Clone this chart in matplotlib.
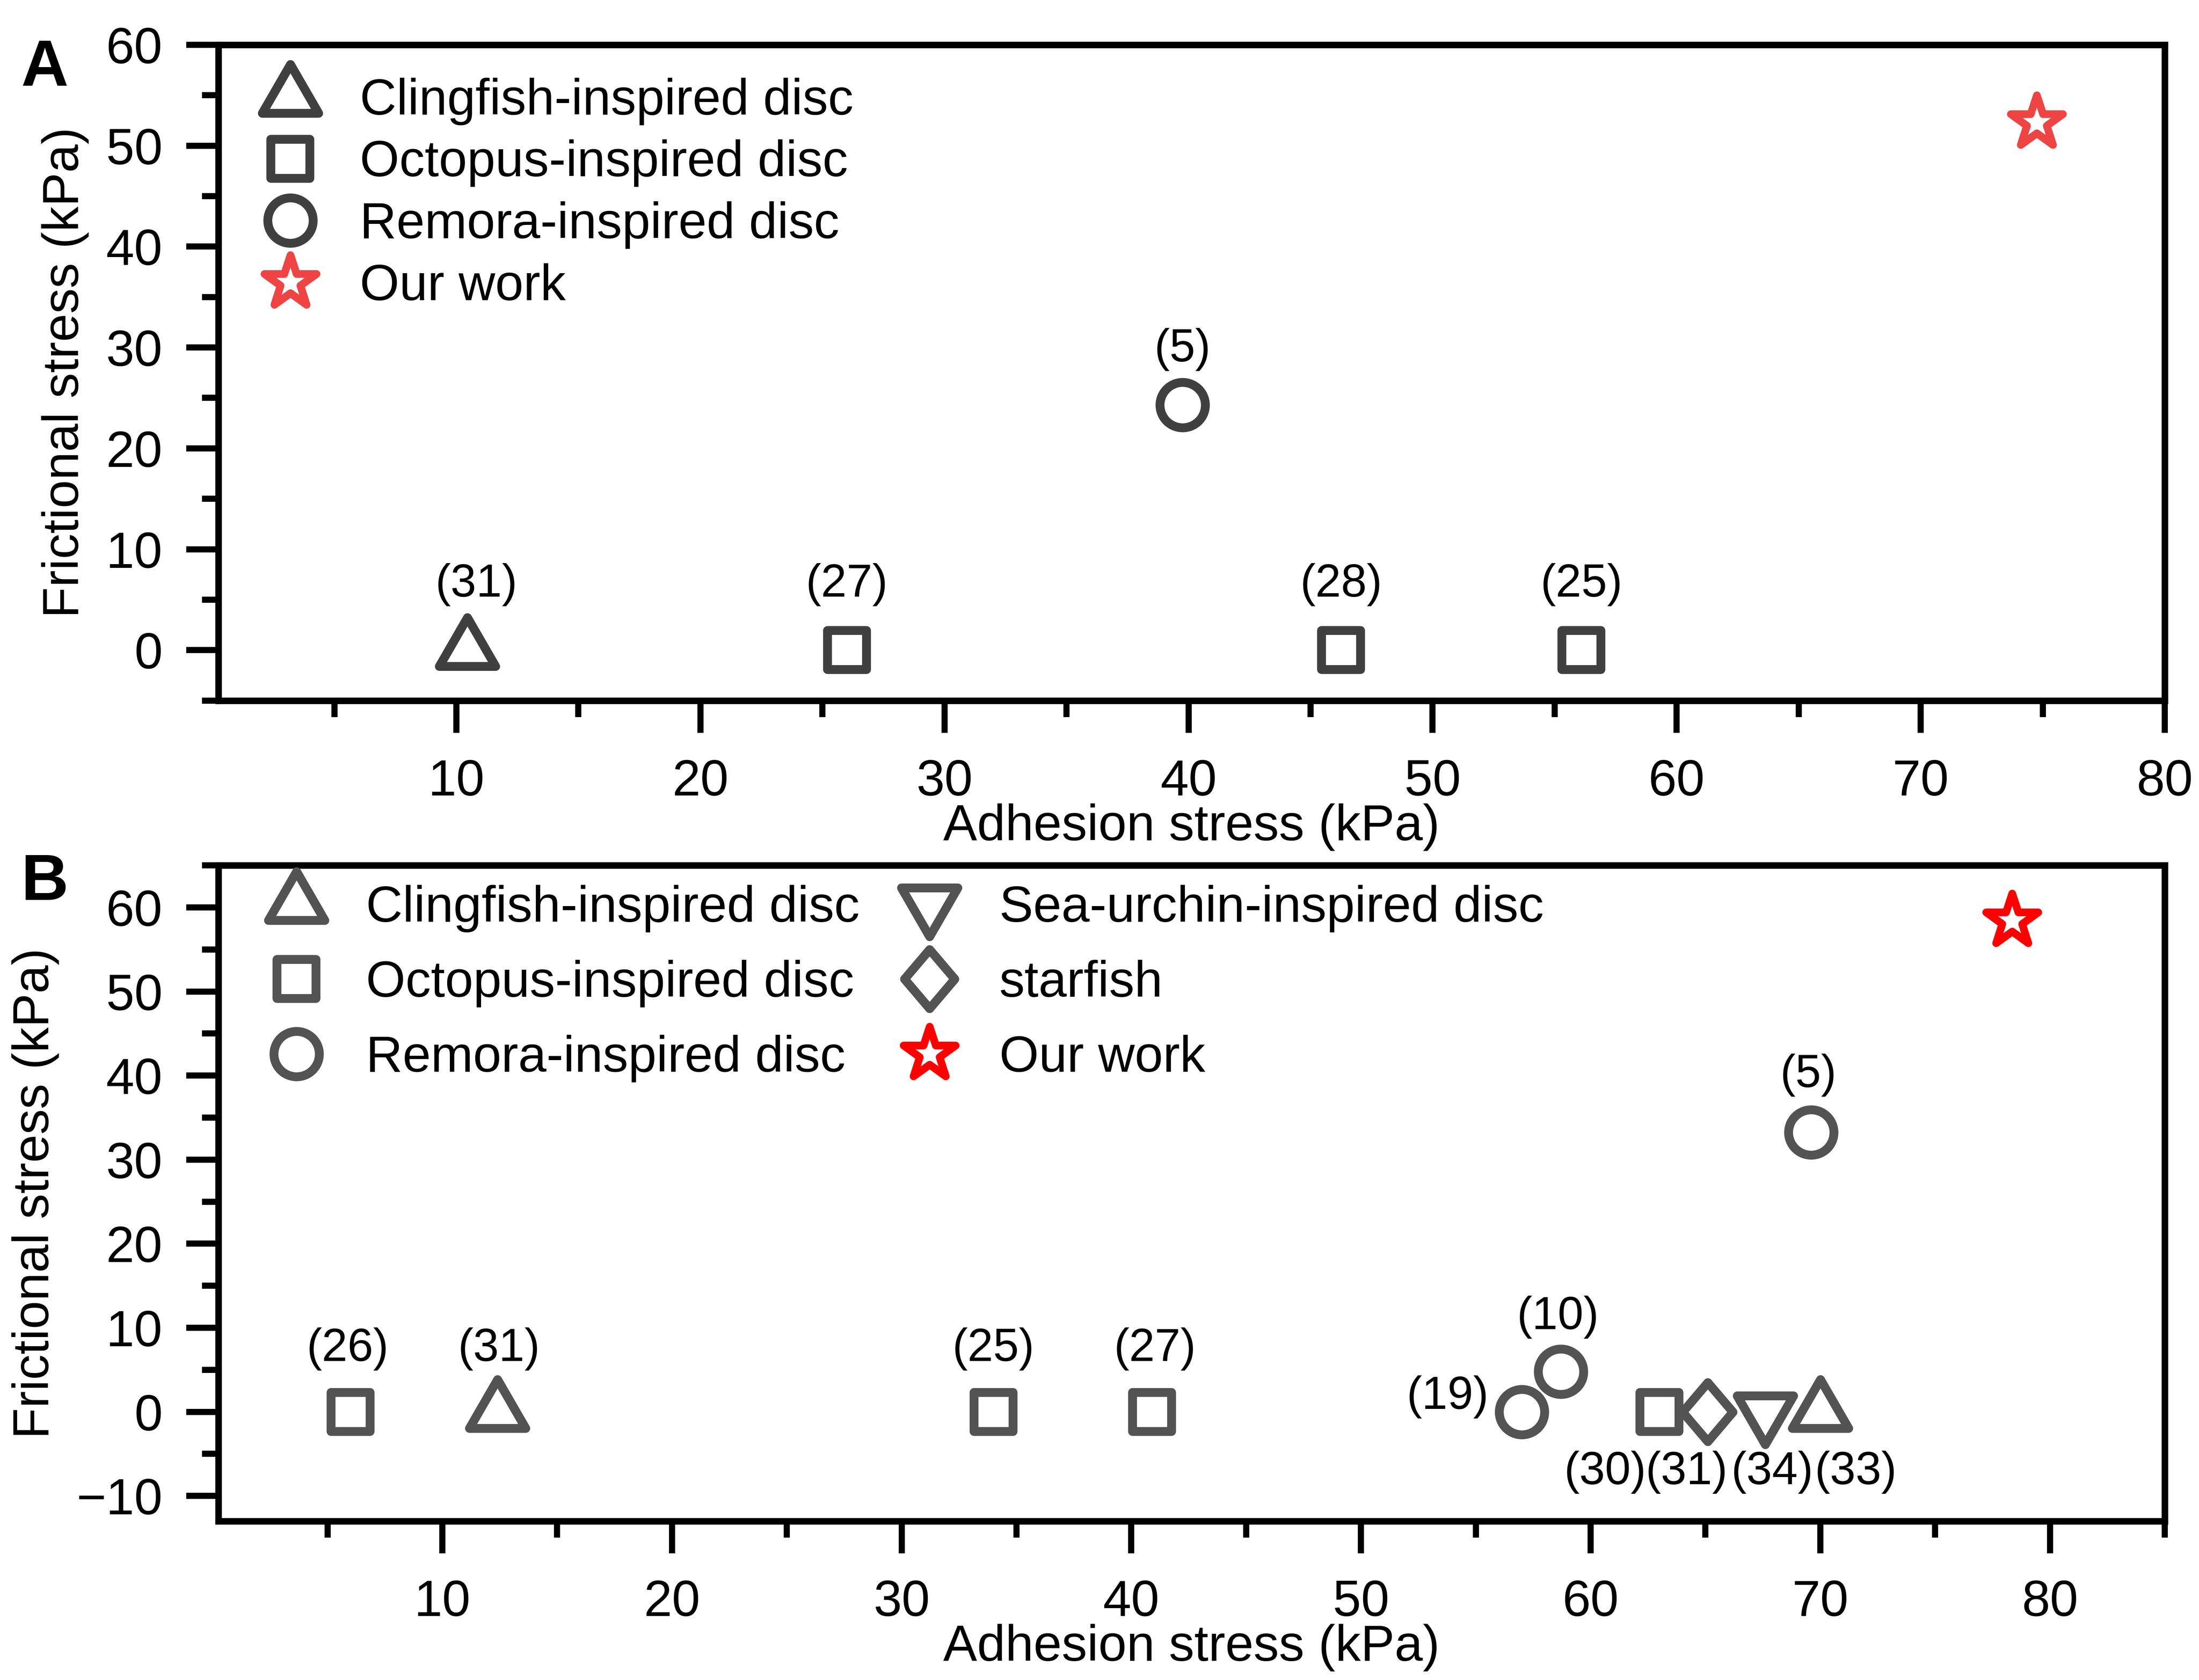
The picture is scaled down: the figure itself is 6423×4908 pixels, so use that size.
import matplotlib
matplotlib.use('Agg')
import matplotlib.pyplot as plt
from matplotlib.markers import MarkerStyle
from matplotlib.path import Path
from matplotlib.ticker import MultipleLocator

plt.rcParams['font.family'] = ['Liberation Sans', 'DejaVu Sans']
plt.rcParams['axes.unicode_minus'] = True

# ---------------- data: panel A ----------------
a_cling_x = [10.45]
a_cling_y = [0.0]
a_cling_ref = ['(31)']
a_octo_x = [26.0, 46.25, 56.1]
a_octo_y = [0.0, 0.0, 0.0]
a_octo_ref = ['(27)', '(28)', '(25)']
a_remora_x = [39.75]
a_remora_y = [24.3]
a_remora_ref = ['(5)']
a_our_x = [74.75]
a_our_y = [52.3]

# ---------------- data: panel B ----------------
b_cling_x = [12.4, 70.0]
b_cling_y = [0.0, 0.0]
b_cling_ref = ['(31)', '(33)']
b_octo_x = [6.0, 34.0, 40.9, 63.0]
b_octo_y = [0.0, 0.0, 0.0, 0.0]
b_octo_ref = ['(26)', '(25)', '(27)', '(30)']
b_remora_x = [57.0, 58.7, 69.6]
b_remora_y = [0.0, 4.8, 33.25]
b_remora_ref = ['(19)', '(10)', '(5)']
b_urchin_x = [67.6]
b_urchin_y = [0.0]
b_urchin_ref = ['(34)']
b_starfish_x = [65.1]
b_starfish_y = [0.0]
b_starfish_ref = ['(31)']
b_our_x = [78.35]
b_our_y = [58.4]

labels_a = ['Clingfish-inspired disc', 'Octopus-inspired disc',
            'Remora-inspired disc', 'Our work']
labels_b = ['Clingfish-inspired disc', 'Octopus-inspired disc',
            'Remora-inspired disc', 'Sea-urchin-inspired disc',
            'starfish', 'Our work']

# annotation offsets (points) -- layout only
off_a_cling = [(3.2, 23.0)]
off_a_octo = [(0, 23.0), (0, 23.0), (0, 23.0)]
off_a_remora = [(0, 19.5)]
off_b_cling = [(0.5, 22.0), (12.4, -21.2)]
off_b_octo = [(-1.0, 22.0), (0, 22.0), (1.0, 22.0), (-19.1, -21.2)]
off_b_remora = [(-26.0, 5.2), (-1.0, 19.0), (-1.0, 20.0)]
off_b_urchin = [(2.5, -21.2)]
off_b_starfish = [(-7.4, -21.2)]

# ---------------- styles ----------------
FS = 17.8
ANN_FS = 16.2
MEW = 3.1
STAR_MEW = 2.7

tri_up = MarkerStyle((3, 0, 0), joinstyle='round')
tri_dn = MarkerStyle((3, 0, 180), joinstyle='round')
square = MarkerStyle('s', joinstyle='round')
circle = MarkerStyle('o', joinstyle='round')
star = MarkerStyle('*', joinstyle='round')
diamond_path = Path([(0, 1), (0.85, 0), (0, -1), (-0.85, 0), (0, 1)],
                    [Path.MOVETO, Path.LINETO, Path.LINETO, Path.LINETO, Path.CLOSEPOLY])
diamond = MarkerStyle(diamond_path, joinstyle='round')

SIZES = {'tri': 22.8, 'sq': 13.7, 'circ': 15.9, 'dia': 20.7, 'star': 19.2}

fig = plt.figure(figsize=(6423 / 600, 4908 / 600), dpi=600)
axA = fig.add_axes([0.09933, 0.58299, 0.8851, 0.39037])
axB = fig.add_axes([0.09933, 0.09454, 0.8851, 0.39037])


def style_axes(ax):
    for s in ax.spines.values():
        s.set_linewidth(2.3)
        s.set_color('black')
    ax.tick_params(axis='both', which='both', direction='out', color='black',
                   top=False, right=False, width=2.15, labelsize=FS)
    ax.tick_params(axis='both', which='major', length=11.3)
    ax.tick_params(axis='both', which='minor', length=5.8)
    ax.tick_params(axis='x', which='major', pad=9.0)
    ax.tick_params(axis='y', which='major', pad=8.3)
    ax.xaxis.set_major_locator(MultipleLocator(10))
    ax.xaxis.set_minor_locator(MultipleLocator(5))
    ax.yaxis.set_major_locator(MultipleLocator(10))
    ax.yaxis.set_minor_locator(MultipleLocator(5))
    ax.set_xlabel('Adhesion stress (kPa)', fontsize=FS, labelpad=-1)
    ax.set_ylabel('Frictional stress (kPa)', fontsize=FS, labelpad=6)


def series(ax, x, y, marker, size, color, label, mew=MEW, z=3):
    ax.plot(x, y, linestyle='none', marker=marker, markersize=size,
            markeredgewidth=mew, markeredgecolor=color, markerfacecolor='white',
            label=label, zorder=z, clip_on=False)


def annotate(ax, x, y, refs, offs):
    for xi, yi, r, (dx, dy) in zip(x, y, refs, offs):
        ax.annotate(r, (xi, yi), xytext=(dx, dy), textcoords='offset points',
                    ha='center', va='center', fontsize=ANN_FS)


# ---------------- panel A ----------------
ga = '#404040'
series(axA, a_cling_x, a_cling_y, tri_up, SIZES['tri'], ga, labels_a[0])
series(axA, a_octo_x, a_octo_y, square, SIZES['sq'], ga, labels_a[1])
series(axA, a_remora_x, a_remora_y, circle, SIZES['circ'], ga, labels_a[2])
series(axA, a_our_x, a_our_y, star, SIZES['star'], '#EF4444', labels_a[3], mew=STAR_MEW)
annotate(axA, a_cling_x, a_cling_y, a_cling_ref, off_a_cling)
annotate(axA, a_octo_x, a_octo_y, a_octo_ref, off_a_octo)
annotate(axA, a_remora_x, a_remora_y, a_remora_ref, off_a_remora)
axA.set_xlim(0.25, 80)
axA.set_ylim(-5, 60)
style_axes(axA)
axA.legend(loc='upper left', bbox_to_anchor=(0.0187, 0.9498), frameon=False,
           fontsize=FS, borderaxespad=0, borderpad=0, handlelength=1.4,
           handletextpad=0.67, labelspacing=0.28, markerscale=1)

# ---------------- panel B ----------------
gb = '#535353'
series(axB, b_cling_x, b_cling_y, tri_up, SIZES['tri'], gb, labels_b[0])
series(axB, b_octo_x, b_octo_y, square, SIZES['sq'], gb, labels_b[1])
series(axB, b_remora_x, b_remora_y, circle, SIZES['circ'], gb, labels_b[2])
series(axB, b_urchin_x, b_urchin_y, tri_dn, SIZES['tri'], gb, labels_b[3])
series(axB, b_starfish_x, b_starfish_y, diamond, SIZES['dia'], gb, labels_b[4])
series(axB, b_our_x, b_our_y, star, SIZES['star'], '#FF0000', labels_b[5], mew=STAR_MEW)
annotate(axB, b_cling_x, b_cling_y, b_cling_ref, off_b_cling)
annotate(axB, b_octo_x, b_octo_y, b_octo_ref, off_b_octo)
annotate(axB, b_remora_x, b_remora_y, b_remora_ref, off_b_remora)
annotate(axB, b_urchin_x, b_urchin_y, b_urchin_ref, off_b_urchin)
annotate(axB, b_starfish_x, b_starfish_y, b_starfish_ref, off_b_starfish)
axB.set_xlim(0.25, 85)
axB.set_ylim(-13, 65)
style_axes(axB)
axB.legend(loc='upper left', bbox_to_anchor=(0.0218, 0.9702), frameon=False,
           fontsize=FS, ncol=2, borderaxespad=0, borderpad=0, handlelength=1.4,
           handletextpad=0.67, labelspacing=0.54, columnspacing=0.68, markerscale=1)

fig.text(0.0095, 0.94886, 'A', fontsize=23, fontweight='bold', ha='left', va='baseline')
fig.text(0.0095, 0.46434, 'B', fontsize=23, fontweight='bold', ha='left', va='baseline')

fig.savefig('out.png', dpi=600, facecolor='white')
